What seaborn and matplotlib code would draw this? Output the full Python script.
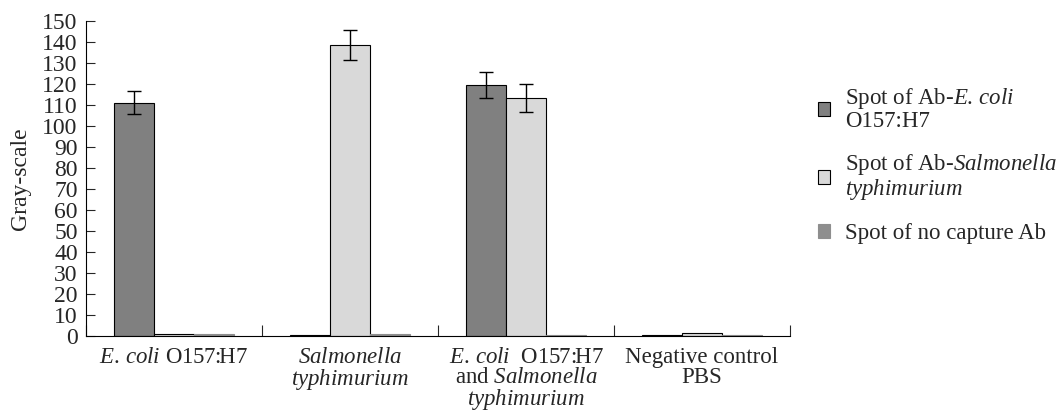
import pandas as pd
import numpy as np
import matplotlib
matplotlib.use("Agg")
import matplotlib.pyplot as plt
import seaborn as sns
from matplotlib.patches import Patch

# data
groups = ["E. coli O157:H7", "Salmonella typhimurium",
          "E. coli O157:H7 and Salmonella typhimurium", "Negative control PBS"]
spots = ["Ab-E. coli", "Ab-Salmonella", "No capture Ab"]
ab_ecoli = [111.0, 0.3, 119.5, 0.3]
ab_salm = [1.0, 138.5, 113.3, 1.2]
no_ab = [0.8, 0.8, 0.5, 0.6]
err_ecoli = [5.5, 0.0, 6.2, 0.0]
err_salm = [0.0, 7.0, 6.5, 0.0]
err_no = [0.0, 0.0, 0.0, 0.0]

tick_labels = ["$\\mathit{E.\\,coli}$ O157:H7",
               "$\\mathit{Salmonella}$\n$\\mathit{typhimurium}$",
               "$\\mathit{E.\\,coli}$  O157:H7\nand $\\mathit{Salmonella}$\n$\\mathit{typhimurium}$",
               "Negative control\nPBS"]
legend_labels = ["Spot of Ab-$\\mathit{E.\\,coli}$\nO157:H7",
                 "Spot of Ab-$\\mathit{Salmonella}$\n$\\mathit{typhimurium}$",
                 "Spot of no capture Ab"]
colors = ["#808080", "#d9d9d9", "#8e8e8e"]
edges = ["black", "black", "#8e8e8e"]

df = pd.DataFrame({
    "group": groups * 3,
    "spot": [s for s in spots for _ in groups],
    "value": ab_ecoli + ab_salm + no_ab,
})
errs = [err_ecoli, err_salm, err_no]

sns.set_style("white")
plt.rcParams["font.family"] = ["Liberation Serif", "DejaVu Serif"]
plt.rcParams["mathtext.fontset"] = "custom"
plt.rcParams["mathtext.rm"] = "Liberation Serif"
plt.rcParams["mathtext.it"] = "Liberation Serif:italic"

fs = 16.5
fig = plt.figure(figsize=(10.57, 4.2), dpi=100)
ax = fig.add_axes([0.0814, 0.2, 0.666, 0.75])

sns.barplot(data=df, x="group", y="value", hue="spot", order=groups,
            hue_order=spots, palette=colors, width=0.68, gap=0,
            errorbar=None, edgecolor="black", linewidth=0.8, ax=ax,
            legend=False)

for cont, ec, e in zip(ax.containers, edges, errs):
    for bar, v in zip(cont.patches, e):
        bar.set_edgecolor(ec)
        if v > 0:
            cx = bar.get_x() + bar.get_width() / 2
            ax.errorbar(cx, bar.get_height(), yerr=v, fmt="none",
                        ecolor="black", elinewidth=1, capsize=5, capthick=1)

ax.set_xlim(-0.5, 3.5)
ax.set_ylim(0, 150)
ax.set_yticks(np.arange(0, 151, 10))
ax.tick_params(axis="y", direction="in", length=6.5, width=0.8,
               labelsize=17, pad=6, left=True)
ax.set_xticks(range(4))
ax.set_xticklabels(tick_labels, fontsize=fs, linespacing=0.95, va="top")
ax.tick_params(axis="x", which="major", length=0, pad=8)
ax.set_xticks([-0.5, 0.5, 1.5, 2.5, 3.5], minor=True)
ax.tick_params(axis="x", which="minor", direction="in", length=8,
               width=0.8, bottom=True)
ax.set_xlabel("")
ax.set_ylabel("Gray-scale", fontsize=17, labelpad=8)
sns.despine(ax=ax)
for s in ["left", "bottom"]:
    ax.spines[s].set_linewidth(0.8)
    ax.spines[s].set_color("black")

handles = [Patch(facecolor=c, edgecolor=e, linewidth=0.8)
           for c, e in zip(colors, edges)]
leg = ax.legend(handles, legend_labels, loc="upper left",
                bbox_to_anchor=(1.01, 0.86), frameon=False, fontsize=fs,
                handlelength=0.55, handleheight=0.55, handletextpad=0.65,
                labelspacing=0.9)
for t in leg.get_texts():
    t.set_linespacing(1.0)

fig.savefig("out.png", dpi=100)
